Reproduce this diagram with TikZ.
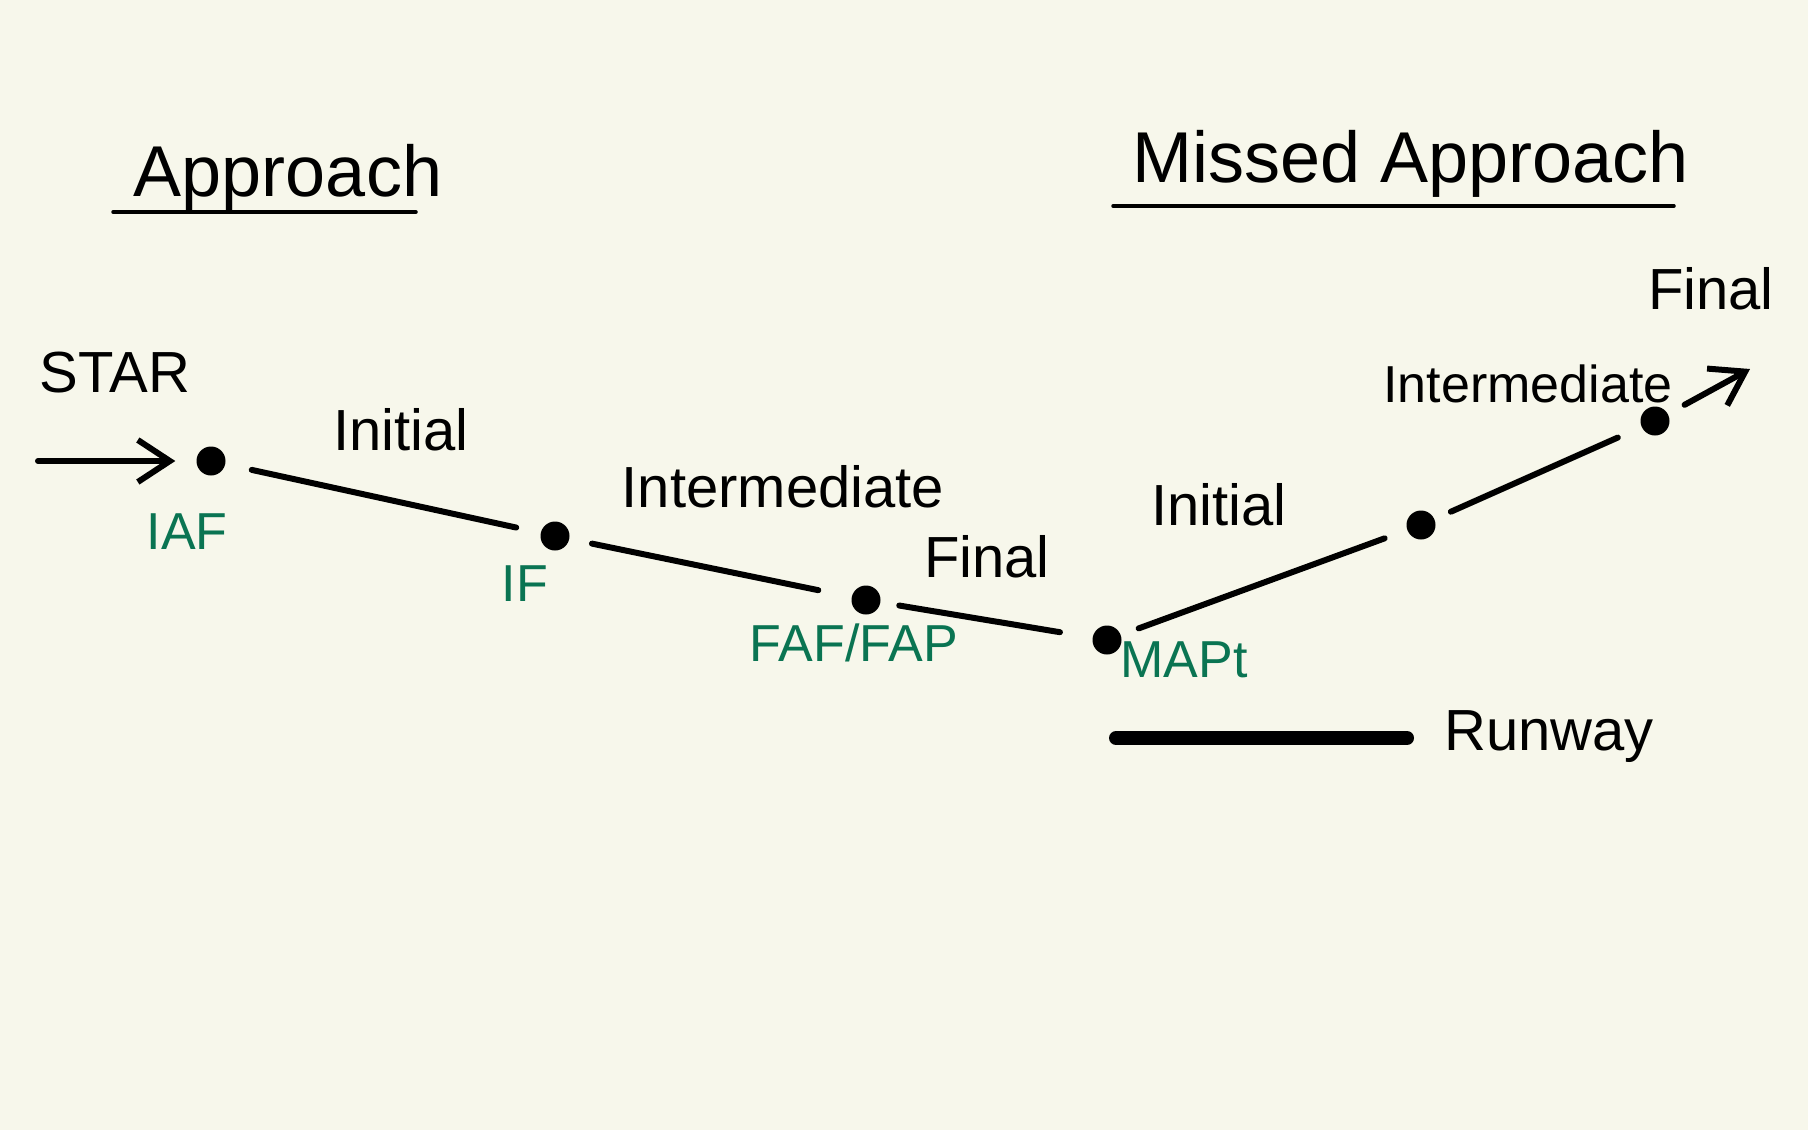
\documentclass[tikz,border=0pt]{standalone}
\usepackage{fontspec}
\setmainfont{Liberation Sans}
\usetikzlibrary{arrows.meta}
\definecolor{paper}{HTML}{F7F7EB}
\definecolor{fixgreen}{HTML}{0A7452}
\begin{document}
\begin{tikzpicture}[x=1pt,y=-1pt,
  title/.style={anchor=base,inner sep=0pt,font=\fontsize{72}{80}\selectfont},
  lbl/.style={anchor=base,inner sep=0pt,font=\fontsize{58}{64}\selectfont},
  fixlbl/.style={anchor=base,inner sep=0pt,text=fixgreen,font=\fontsize{52}{58}\selectfont},
  fixdot/.style={circle,fill=black,inner sep=0pt,minimum size=29pt},
  leg/.style={line width=6pt,line cap=round},
  arr/.style={leg,-{Straight Barb[length=32pt,width=42pt,line width=6pt]}},
  uline/.style={line width=3.5pt,line cap=round}]
\fill[paper] (0,0) rectangle (1808,1130);
\useasboundingbox (0,0) rectangle (1808,1130);

% titles
\node[title] (tapp) at (288,196) {Approach};
\draw[uline] (113,212) -- (416,212);
\node[title] (tmiss) at (1411,182) {Missed Approach};
\draw[uline] (1113,206) -- (1674,206);

% fixes
\node[fixdot] (iaf) at (211,461) {};
\node[fixdot] (if) at (555,536) {};
\node[fixdot] (faf) at (866,600) {};
\node[fixdot] (map) at (1107,640) {};
\node[fixdot] (m1) at (1421,525) {};
\node[fixdot] (m2) at (1655,421) {};

% fix labels
\node[fixlbl] (liaf) at (187,549) {IAF};
\node[fixlbl] (lif) at (525,601) {IF};
\node[fixlbl] (lfaf) at (854,661) {FAF/FAP};
\node[fixlbl] (lmap) at (1184,677) {MAPt};

% segment labels
\node[lbl] (star) at (115,392) {STAR};
\node[lbl] (ini1) at (401,450) {Initial};
\node[lbl] (int1) at (783,507) {Intermediate};
\node[lbl] (fin1) at (987,577) {Final};
\node[lbl] (ini2) at (1219,525) {Initial};
\node[lbl,font=\fontsize{52}{58}\selectfont] (int2) at (1528,402) {Intermediate};
\node[lbl] (fin2) at (1711,309) {Final};
\node[lbl] (rwy) at (1549,750) {Runway};

% connectors
\coordinate (starin) at (38,461);
\coordinate (maout) at (1750,369);
\draw[arr, shorten >=21pt] (starin) -- (iaf);
\draw[leg, shorten <=27pt, shorten >=25pt] (iaf) -- (if);
\draw[leg, shorten <=23pt, shorten >=34pt] (if) -- (faf);
\draw[leg, shorten <=19pt, shorten >=33pt] (faf) -- (map);
\draw[leg, shorten <=19pt, shorten >=24pt] (map) -- (m1);
\draw[leg, shorten <=18pt, shorten >=26pt] (m1) -- (m2);
\draw[arr, shorten <=19pt] (m2) -- (maout);

% runway
\coordinate (rw1) at (1116,738);
\coordinate (rw2) at (1407,738);
\draw[line width=14pt,line cap=round] (rw1) -- (rw2);
\end{tikzpicture}
\end{document}
